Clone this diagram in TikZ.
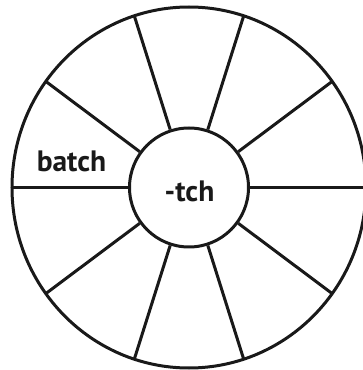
\documentclass[tikz,border=0pt]{standalone}
\usepackage{fontspec}
\setmainfont{PT Sans}
\usetikzlibrary{calc}

\begin{document}
\begin{tikzpicture}[x=1pt, y=1pt,
  rim/.style={line width=3pt, black!90},
  hubnode/.style={circle, draw, line width=3pt, draw=black!90, minimum size=119pt, inner sep=0pt},
  word/.style={font=\fontsize{29.5}{34}\selectfont\bfseries, text=black!90, inner sep=0pt}]
  \useasboundingbox (0,0) rectangle (362,370);
  \coordinate (c) at (189,182.5);
  % wheel
  \draw[rim] (c) ellipse [x radius=177, y radius=180.5];
  \node[hubnode] (hub) at (c) {};
  \foreach \a in {0,36,...,324}
    \draw[rim] (hub.\a) -- ($(c)+(\a:177 and 180.5)$);
  % words
  \node[word] (batch) at (71.5,209) {batch};
  \node[word] (tch) at (189.5,179) {-tch};
\end{tikzpicture}
\end{document}
